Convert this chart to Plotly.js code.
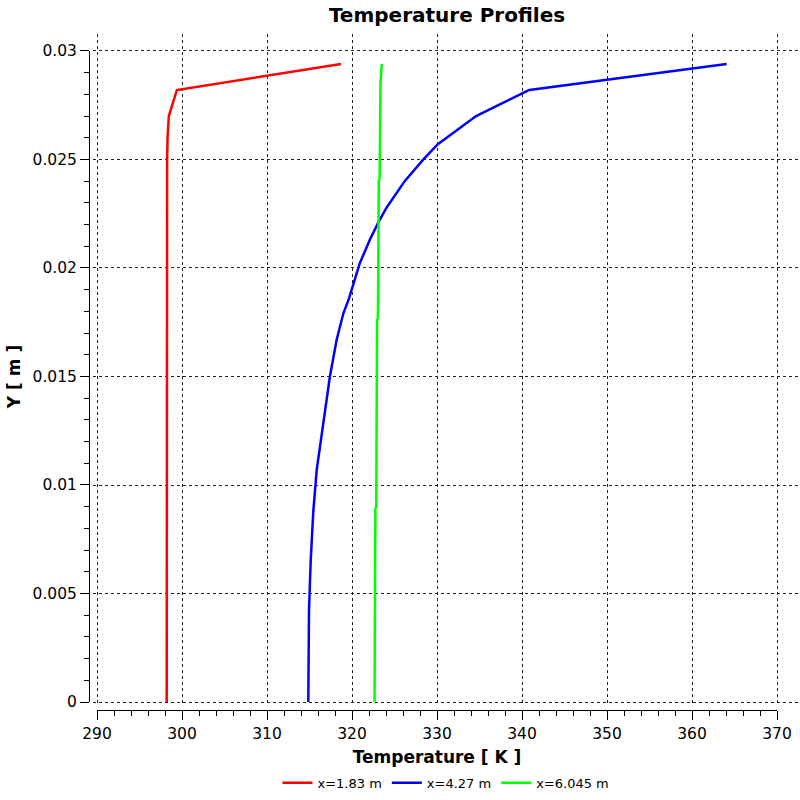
<!DOCTYPE html>
<html>
<head>
<meta charset="utf-8">
<script src="https://cdn.plot.ly/plotly-3.0.1.min.js"></script>
<style>html,body{margin:0;padding:0;background:#fff;}#chart{width:800px;height:800px;}</style>
</head>
<body>
<div id="chart"></div>
<script>
// Series names
const seriesNames = ["x=1.83 m", "x=4.27 m", "x=6.045 m"];
const seriesColors = ["#ff0000", "#0000ff", "#00ff00"];

// x = 1.83 m
const redY = [0, 0.005, 0.01, 0.015, 0.02, 0.023, 0.025, 0.026, 0.027, 0.0282, 0.0294];
const redT = [298.2, 298.2, 298.2, 298.2, 298.2, 298.2, 298.25, 298.3, 298.45, 299.4, 318.7];

// x = 4.27 m
const blueY = [0, 0.0025, 0.0042, 0.0065, 0.0088, 0.0107, 0.0127, 0.015, 0.0167, 0.0179, 0.0186, 0.0193, 0.0202, 0.0213, 0.0221, 0.0228, 0.024, 0.025, 0.0257, 0.027, 0.0282, 0.0294];
const blueT = [314.86, 314.86, 314.94, 315.14, 315.45, 315.85, 316.6, 317.4, 318.2, 318.98, 319.65, 320.2, 320.9, 322.1, 323.1, 324.1, 326.2, 328.4, 330.1, 334.6, 340.86, 364.08];

// x = 6.045 m
const greenY = [0, 0.0089, 0.009, 0.0176, 0.0177, 0.024, 0.0241, 0.0285, 0.0294];
const greenT = [322.65, 322.75, 322.85, 322.95, 323.05, 323.15, 323.25, 323.35, 323.5];

// Axis tick settings
const xTickRange = [290, 370];
const yTickRange = [0, 0.03];

const FONT = "DejaVu Sans, Verdana, sans-serif";

// layout geometry (pixels)
const W = 800, H = 800;
const mL = 89, mR = 2, mT = 34, mB = 87;
const pw = W - mL - mR, ph = H - mT - mB;
const xPx0 = 97, xPx1 = 777;     // pixel positions of 290 and 370
const yPx0 = 705, yPx1 = 51;     // pixel positions of 0 and 0.03
const gridLeft = 93, gridBottom = 708;

const kx = (xTickRange[1] - xTickRange[0]) / (xPx1 - xPx0);
const ky = (yTickRange[1] - yTickRange[0]) / (yPx0 - yPx1);
const xMainRange = [xTickRange[0] - (xPx0 - gridLeft) * kx, xTickRange[0] + (W - mR - xPx0) * kx];
const yMainRange = [yTickRange[0] - (gridBottom - yPx0) * ky, yTickRange[0] + (yPx0 - mT) * ky];

const ys = [redY, blueY, greenY];
const ts = [redT, blueT, greenT];
const traces = [{type: "scatter", mode: "lines", x: [], y: [], xaxis: "x2", yaxis: "y2", showlegend: false, hoverinfo: "skip"}];
seriesNames.forEach((n, i) => traces.push({
  type: "scatter", mode: "lines", name: n,
  x: ts[i], y: ys[i],
  line: {color: seriesColors[i], width: 2.5},
  xaxis: "x", yaxis: "y", hoverinfo: "x+y+name"
}));

const gridStyle = {showgrid: true, gridcolor: "#222", griddash: "dot", gridwidth: 1, zeroline: false, showline: false, ticks: "", showticklabels: false};

const layout = {
  width: W, height: H,
  margin: {l: mL, r: mR, t: mT, b: mB, pad: 0},
  paper_bgcolor: "#fff", plot_bgcolor: "rgba(0,0,0,0)",
  font: {family: FONT, color: "#000", size: 15.5},
  title: {text: "Temperature Profiles", font: {family: FONT, size: 20, weight: "bold", color: "#000"},
          xref: "container", x: 447 / W, xanchor: "center", yref: "container", y: 1 - 15 / H, yanchor: "middle"},
  showlegend: true,
  legend: {orientation: "h", xref: "paper", x: (446 - mL) / pw, xanchor: "center", y: -(786 - (H - mB)) / ph, yanchor: "middle",
           font: {family: FONT, size: 13, color: "#000"}, bgcolor: "rgba(0,0,0,0)", tracegroupgap: 0, itemwidth: 30},
  xaxis: Object.assign({domain: [(gridLeft - mL) / pw, 1], range: xMainRange, tick0: 290, dtick: 10}, gridStyle),
  yaxis: Object.assign({domain: [(H - mB - gridBottom) / ph, 1], range: yMainRange, tick0: 0, dtick: 0.005}, gridStyle),
  xaxis2: {
    domain: [(xPx0 - mL) / pw, (xPx1 - mL) / pw], range: xTickRange, anchor: "free", position: 0, side: "bottom",
    showline: true, linecolor: "#000", linewidth: 1, showgrid: false, zeroline: false,
    ticks: "outside", ticklen: 9, tickwidth: 1, tickcolor: "#000", tick0: 290, dtick: 10,
    minor: {ticks: "outside", ticklen: 5, tickwidth: 1, tickcolor: "#000", dtick: 2, showgrid: false},
    tickfont: {family: FONT, size: 15.5, color: "#000"},
    title: {text: "Temperature [ K ]", font: {family: FONT, size: 17, weight: "bold", color: "#000"}, standoff: 9}
  },
  yaxis2: {
    domain: [(H - mB - yPx0) / ph, (H - mB - yPx1) / ph], range: yTickRange, anchor: "free", position: 0, side: "left",
    showline: true, linecolor: "#000", linewidth: 1, showgrid: false, zeroline: false,
    ticks: "outside", ticklen: 9, tickwidth: 1, tickcolor: "#000", tick0: 0, dtick: 0.005,
    minor: {ticks: "outside", ticklen: 5, tickwidth: 1, tickcolor: "#000", dtick: 0.001, showgrid: false},
    tickfont: {family: FONT, size: 15.5, color: "#000"},
    title: {text: "Y [ m ]", font: {family: FONT, size: 17, weight: "bold", color: "#000"}, standoff: 6}
  }
};

Plotly.newPlot("chart", traces, layout, {staticPlot: true, displayModeBar: false});
</script>
</body>
</html>
